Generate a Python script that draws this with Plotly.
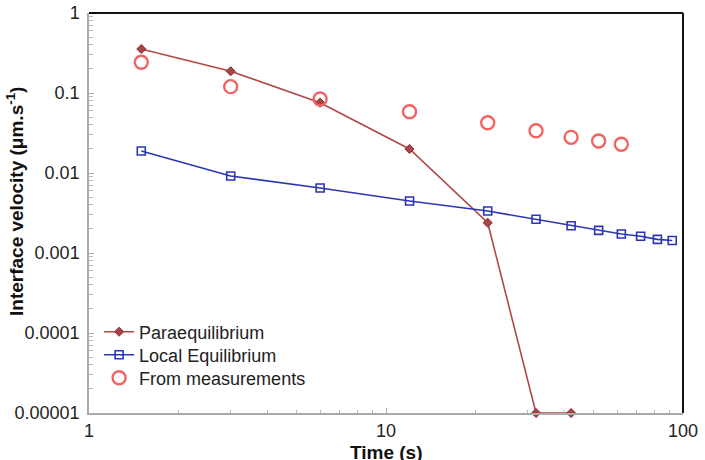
import plotly.graph_objects as go

time_para = [1.5, 3, 6, 12, 22, 32, 42]
v_para = [0.355, 0.187, 0.0757, 0.0200, 0.00239, 0.00001, 0.00001]

time_local = [1.5, 3, 6, 12, 22, 32, 42, 52, 62, 72, 82, 92]
v_local = [0.0188, 0.00917, 0.0065, 0.00447, 0.00335, 0.00264, 0.00219,
           0.00192, 0.00173, 0.00162, 0.00148, 0.00143]

time_meas = [1.5, 3, 6, 12, 22, 32, 42, 52, 62]
v_meas = [0.242, 0.120, 0.0841, 0.0584, 0.0425, 0.0338, 0.0279, 0.0251, 0.0229]

y_tickvals = [1, 0.1, 0.01, 0.001, 0.0001, 0.00001]
y_ticktext = ["1", "0.1", "0.01", "0.001", "0.0001", "0.00001"]
x_tickvals = [1, 10, 100]
x_ticktext = ["1", "10", "100"]
x_minor = [2, 3, 4, 5, 6, 7, 8, 9, 20, 30, 40, 50, 60, 70, 80, 90]
y_minor = [m * 10.0 ** e for e in range(-5, 0) for m in range(2, 10)]

FONT = "Liberation Sans, Arial, Helvetica, sans-serif"

fig = go.Figure()
fig.add_trace(go.Scatter(
    x=time_para, y=v_para, name="Paraequilibrium", mode="lines+markers",
    line=dict(color="#b04848", width=1.6),
    marker=dict(symbol="diamond", size=7, color="#a84444",
                line=dict(color="#8a3030", width=1)),
    cliponaxis=False, legend="legend",
))
fig.add_trace(go.Scatter(
    x=time_local, y=v_local, name="Local Equilibrium", mode="lines+markers",
    line=dict(color="#2b36b5", width=1.6),
    marker=dict(symbol="square-open", size=8, color="#2b36b5",
                line=dict(width=1.6)),
    cliponaxis=False, legend="legend2",
))
fig.add_trace(go.Scatter(
    x=time_meas, y=v_meas, name="From measurements", mode="markers",
    marker=dict(symbol="circle-open", size=13, color="#f06464",
                line=dict(width=2.4)),
    cliponaxis=False, legend="legend3",
))

leg_common = dict(x=0.017, xanchor="left", yanchor="middle",
                  bgcolor="rgba(0,0,0,0)", font=dict(size=18, color="#222"),
                  itemwidth=30)

fig.update_layout(
    width=705, height=460,
    margin=dict(l=89, r=22, t=13, b=47, autoexpand=False),
    paper_bgcolor="white", plot_bgcolor="white",
    font=dict(family=FONT, size=17, color="#222"),
    showlegend=True,
    legend=dict(y=0.2025, **leg_common),
    legend2=dict(y=0.145, **leg_common),
    legend3=dict(y=0.0875, **leg_common),
    shapes=[
        dict(type="line", xref="paper", yref="paper", x0=0, x1=1, y0=1, y1=1,
             line=dict(color="#111", width=2)),
        dict(type="line", xref="paper", yref="paper", x0=1, x1=1, y0=0, y1=1,
             line=dict(color="#111", width=2)),
    ],
    annotations=[
        dict(text="<b>Interface velocity (μm.s<sup>-1</sup>)</b>",
             xref="paper", yref="paper", x=0, y=0.5, xanchor="center",
             yanchor="middle", xshift=-74, yshift=11, textangle=-90,
             showarrow=False, font=dict(size=19, color="#111")),
        dict(text="<b>Time (s)</b>",
             xref="paper", yref="paper", x=0.5, y=0, xanchor="center",
             yanchor="middle", yshift=-39,
             showarrow=False, font=dict(size=19, color="#111")),
    ],
)
fig.update_xaxes(
    type="log", range=[0, 2], automargin=False,
    tickvals=x_tickvals, ticktext=x_ticktext,
    showgrid=False, zeroline=False,
    showline=True, linecolor="#aaa", linewidth=1.5,
    ticks="inside", ticklen=5, tickcolor="#aaa",
    minor=dict(ticks="inside", ticklen=3, tickcolor="#bbb", showgrid=False,
               tickvals=x_minor),
    tickfont=dict(size=18, color="#222"),
    ticklabelstandoff=1,
)
fig.update_yaxes(
    type="log", range=[-5, 0], automargin=False,
    tickvals=y_tickvals, ticktext=y_ticktext,
    showgrid=False, zeroline=False,
    showline=True, linecolor="#aaa", linewidth=1.5,
    ticks="inside", ticklen=5, tickcolor="#aaa",
    minor=dict(ticks="inside", ticklen=4, tickcolor="#bbb", showgrid=False,
               tickvals=y_minor),
    tickfont=dict(size=18, color="#222"),
    ticklabelstandoff=4,
)

fig.write_html("out.html")
